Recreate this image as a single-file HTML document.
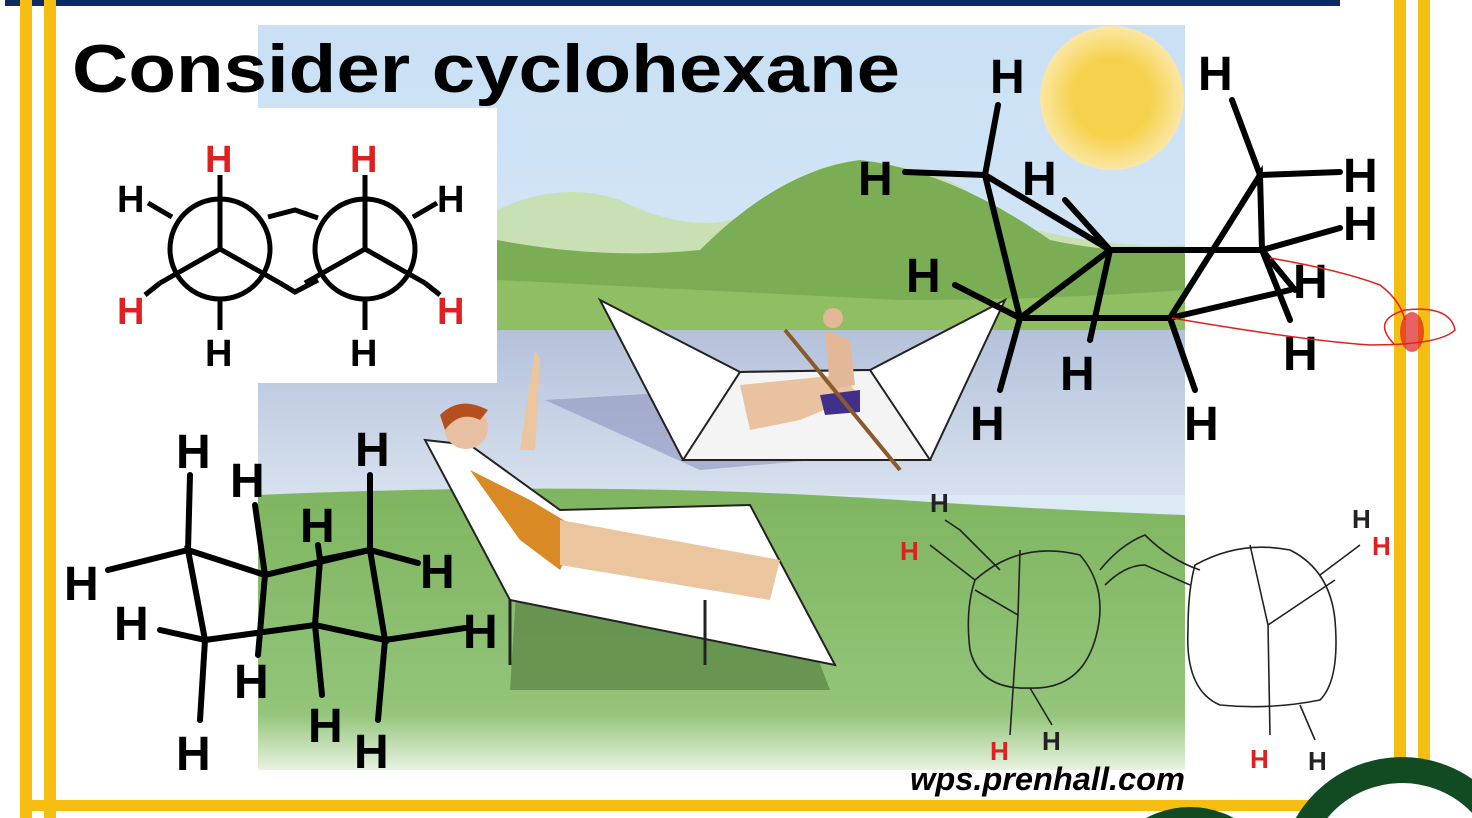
<!DOCTYPE html>
<html><head><style>
html,body{margin:0;padding:0;background:#fff;width:1472px;height:818px;overflow:hidden}
svg{display:block}
text{font-family:"Liberation Sans",Arial,sans-serif;font-weight:bold}
</style></head><body>
<svg width="1472" height="818" viewBox="0 0 1472 818" xmlns="http://www.w3.org/2000/svg" style="overflow:hidden">
<defs>
<linearGradient id="sky" x1="0" y1="0" x2="0" y2="1"><stop offset="0" stop-color="#c9e0f5"/><stop offset="1" stop-color="#e6f0f6"/></linearGradient>
<linearGradient id="lake" x1="0" y1="0" x2="0" y2="1"><stop offset="0" stop-color="#b4c1da"/><stop offset="1" stop-color="#d7e1ee"/></linearGradient>
<linearGradient id="grass" x1="0" y1="0" x2="0" y2="1"><stop offset="0" stop-color="#7fb560"/><stop offset="0.8" stop-color="#93c57a"/><stop offset="1" stop-color="#e8f2e0"/></linearGradient>
<radialGradient id="sun"><stop offset="0.55" stop-color="#f6d24c"/><stop offset="1" stop-color="#fbe7a6"/></radialGradient>
<clipPath id="pg"><rect x="0" y="0" width="1472" height="818"/></clipPath>
</defs>
<g clip-path="url(#pg)">
<!-- frame -->
<rect x="5" y="0" width="1335" height="6" fill="#0b2a66"/>
<rect x="20" y="0" width="12" height="818" fill="#f6be11"/>
<rect x="44" y="0" width="12" height="818" fill="#f6be11"/>
<rect x="1394" y="0" width="12" height="760" fill="#f6be11"/>
<rect x="1418" y="0" width="12" height="760" fill="#f6be11"/>
<rect x="20" y="800" width="1300" height="11" fill="#f6be11"/>
<circle cx="1402" cy="880" r="110" fill="none" stroke="#124a22" stroke-width="26"/>
<circle cx="1190" cy="900" r="80" fill="none" stroke="#124a22" stroke-width="26"/>
<!-- scene -->
<rect x="258" y="25" width="927" height="745" fill="url(#sky)"/>
<circle cx="1112" cy="98" r="72" fill="url(#sun)"/>
<path d="M497 210 Q560 180 620 200 Q700 240 760 210 Q820 150 880 165 Q960 170 1000 220 Q1100 250 1185 245 L1185 340 L497 330 Z" fill="#c9e0b4"/>
<path d="M497 240 Q600 260 700 250 Q780 170 860 160 Q950 170 1050 240 Q1120 255 1185 250 L1185 345 L497 330 Z" fill="#7aad54"/>
<path d="M497 280 Q700 290 900 300 Q1050 300 1185 290 L1185 345 L497 335 Z" fill="#8fbf62"/>
<rect x="258" y="330" width="927" height="165" fill="url(#lake)"/>
<path d="M258 495 Q600 480 900 500 Q1050 510 1185 515 L1185 770 L258 770 Z" fill="url(#grass)"/>
<path d="M520 530 L780 560 L830 690 L510 690 Z" fill="#5e8b48" opacity="0.8"/>
<!-- boat -->
<path d="M545 400 L880 380 L930 450 L700 470 Z" fill="#8d94c0" opacity="0.6"/>
<path d="M600 300 L740 372 L870 370 L1005 300 L930 460 L683 460 Z" fill="#fff" stroke="#222" stroke-width="2"/>
<path d="M740 372 L870 370 L930 460 L683 460 Z" fill="#f4f4f4" stroke="#222" stroke-width="2"/>
<path d="M740 385 L840 375 L860 395 L800 420 L750 430 Z" fill="#e9c39f"/>
<path d="M820 395 L860 390 L860 412 L825 415 Z" fill="#40308a"/>
<path d="M825 330 L850 340 L855 385 L830 390 Z" fill="#e3b896"/>
<circle cx="833" cy="318" r="10" fill="#e3b896"/>
<line x1="785" y1="330" x2="900" y2="470" stroke="#8a5a2a" stroke-width="4"/>
<!-- lounger -->
<path d="M425 440 L470 445 L560 510 L750 505 L835 665 L510 600 Z" fill="#fff" stroke="#222" stroke-width="2"/>
<line x1="510" y1="600" x2="510" y2="665" stroke="#222" stroke-width="3"/>
<line x1="705" y1="600" x2="705" y2="665" stroke="#222" stroke-width="3"/>
<path d="M470 470 L530 500 L580 530 L560 570 L520 540 Z" fill="#d98a25"/>
<path d="M560 520 L780 560 L770 600 L560 565 Z" fill="#ebc59e"/>
<path d="M520 450 L535 350 L540 360 L535 450 Z" fill="#ebc59e"/>
<circle cx="466" cy="427" r="22" fill="#e8bfa0"/>
<path d="M440 415 Q460 395 488 410 L480 420 Q460 410 445 430 Z" fill="#b5501e"/>
<!-- Newman box -->
<rect x="88" y="108" width="409" height="275" fill="#fff"/>
<g stroke="#000" stroke-width="5" fill="none">
<circle cx="220" cy="249" r="50"/><circle cx="365" cy="249" r="50"/>
<line x1="220" y1="175" x2="220" y2="249"/><line x1="220" y1="249" x2="160" y2="283"/><line x1="220" y1="249" x2="280" y2="283"/>
<line x1="172" y1="217" x2="148" y2="203"/><line x1="220" y1="299" x2="220" y2="330"/>
<path d="M280 283 L295 292 L318 280"/><path d="M268 217 L295 210 L318 218"/>
<line x1="365" y1="175" x2="365" y2="249"/><line x1="365" y1="249" x2="305" y2="283"/><line x1="365" y1="249" x2="425" y2="283"/>
<line x1="413" y1="217" x2="437" y2="203"/><line x1="160" y1="283" x2="145" y2="295"/><line x1="425" y1="283" x2="440" y2="295"/><line x1="365" y1="299" x2="365" y2="330"/>
</g>
<g font-size="38">
<text x="205" y="172" fill="#e02020">H</text><text x="350" y="172" fill="#e02020">H</text>
<text x="117" y="212" fill="#000">H</text><text x="437" y="212" fill="#000">H</text>
<text x="117" y="324" fill="#e02020">H</text><text x="437" y="324" fill="#e02020">H</text>
<text x="205" y="366" fill="#000">H</text><text x="350" y="366" fill="#000">H</text>
</g>
<!-- title -->
<text x="72" y="92" font-size="68" fill="#000" textLength="828" lengthAdjust="spacingAndGlyphs">Consider cyclohexane</text>
<!-- top right chair (boat) -->
<g stroke="#000" stroke-width="6" fill="none" stroke-linecap="round">
<path d="M985 175 L1020 318 L1170 318 L1260 175 L1262 250 M1020 318 L1110 250 L1262 250 M1110 250 L985 175"/>
<line x1="985" y1="175" x2="998" y2="105"/><line x1="985" y1="175" x2="905" y2="172"/>
<line x1="1260" y1="175" x2="1232" y2="100"/><line x1="1260" y1="175" x2="1340" y2="172"/>
<line x1="1262" y1="250" x2="1340" y2="228"/><line x1="1262" y1="250" x2="1295" y2="290"/>
<line x1="1110" y1="250" x2="1065" y2="200"/><line x1="1110" y1="250" x2="1090" y2="340"/>
<line x1="1020" y1="318" x2="955" y2="285"/><line x1="1020" y1="318" x2="1000" y2="390"/>
<line x1="1170" y1="318" x2="1290" y2="290"/><line x1="1170" y1="318" x2="1195" y2="390"/>
<line x1="1262" y1="250" x2="1290" y2="320"/>
</g>
<g font-size="48" fill="#000">
<text x="990" y="93">H</text><text x="1198" y="90">H</text><text x="858" y="195">H</text><text x="1022" y="195">H</text>
<text x="1343" y="192">H</text><text x="1343" y="240">H</text><text x="906" y="292">H</text><text x="1293" y="298">H</text>
<text x="1283" y="370">H</text><text x="1060" y="390">H</text><text x="970" y="440">H</text><text x="1184" y="440">H</text>
</g>
<path d="M1172 318 Q1300 340 1370 345 Q1440 345 1455 330 Q1450 305 1405 310 Q1370 320 1395 345 M1270 258 Q1340 270 1380 285 Q1400 300 1405 320" stroke="#e02020" stroke-width="1.5" fill="none"/>
<ellipse cx="1412" cy="332" rx="12" ry="20" fill="#e02020" opacity="0.7"/>
<!-- bottom left chair -->
<g stroke="#000" stroke-width="6" fill="none" stroke-linecap="round">
<path d="M188 550 L205 640 L315 625 L385 640 L370 550 L265 575 Z"/>
<path d="M315 625 L320 560 L370 550"/>
<line x1="188" y1="550" x2="190" y2="475"/><line x1="188" y1="550" x2="108" y2="570"/>
<line x1="205" y1="640" x2="160" y2="630"/><line x1="205" y1="640" x2="200" y2="720"/>
<line x1="265" y1="575" x2="255" y2="505"/><line x1="265" y1="575" x2="258" y2="655"/>
<line x1="370" y1="550" x2="370" y2="475"/><line x1="370" y1="550" x2="418" y2="563"/>
<line x1="385" y1="640" x2="465" y2="628"/><line x1="385" y1="640" x2="378" y2="720"/>
<line x1="315" y1="625" x2="322" y2="695"/><line x1="320" y1="560" x2="318" y2="545"/>
</g>
<g font-size="48" fill="#000">
<text x="176" y="468">H</text><text x="230" y="497">H</text><text x="355" y="466">H</text><text x="300" y="542">H</text>
<text x="64" y="600">H</text><text x="420" y="588">H</text><text x="114" y="640">H</text><text x="463" y="648">H</text>
<text x="234" y="698">H</text><text x="308" y="742">H</text><text x="176" y="770">H</text><text x="354" y="768">H</text>
</g>
<!-- hand drawn newman -->
<g stroke="#222" stroke-width="1.6" fill="none">
<path d="M975 580 Q1020 540 1080 555 Q1110 590 1095 640 Q1080 690 1030 688 Q980 690 970 650 Q965 610 975 580 Z"/>
<path d="M1018 615 L1020 550 M1018 615 L975 590 M1018 615 L1010 735 M1030 688 L1052 725 M975 580 L930 545 M1000 570 L960 530 L945 520"/>
<path d="M1195 565 Q1240 540 1290 550 Q1330 570 1335 620 Q1340 680 1320 700 Q1270 710 1220 705 Q1185 690 1188 630 Q1188 590 1195 565 Z"/>
<path d="M1268 625 L1250 545 M1268 625 L1335 580 M1268 625 L1270 735 M1300 705 L1315 740 M1320 575 L1360 545"/>
<path d="M1100 570 Q1120 545 1145 535 Q1170 560 1200 570 M1105 585 Q1125 565 1145 565 L1190 585"/>
</g>
<g font-size="26" fill="#e02020">
<text x="900" y="560" font-weight="normal">H</text><text x="990" y="760" font-weight="normal">H</text>
<text x="1372" y="555" font-weight="normal">H</text><text x="1250" y="768" font-weight="normal">H</text>
</g>
<g font-size="26" fill="#222">
<text x="930" y="512" font-weight="normal">H</text><text x="1042" y="750" font-weight="normal">H</text>
<text x="1352" y="528" font-weight="normal">H</text><text x="1308" y="770" font-weight="normal">H</text>
</g>
<text x="910" y="790" font-size="32" font-style="italic" font-weight="normal" fill="#000" textLength="275" lengthAdjust="spacingAndGlyphs">wps.prenhall.com</text>
</g>
</svg>
</body></html>
